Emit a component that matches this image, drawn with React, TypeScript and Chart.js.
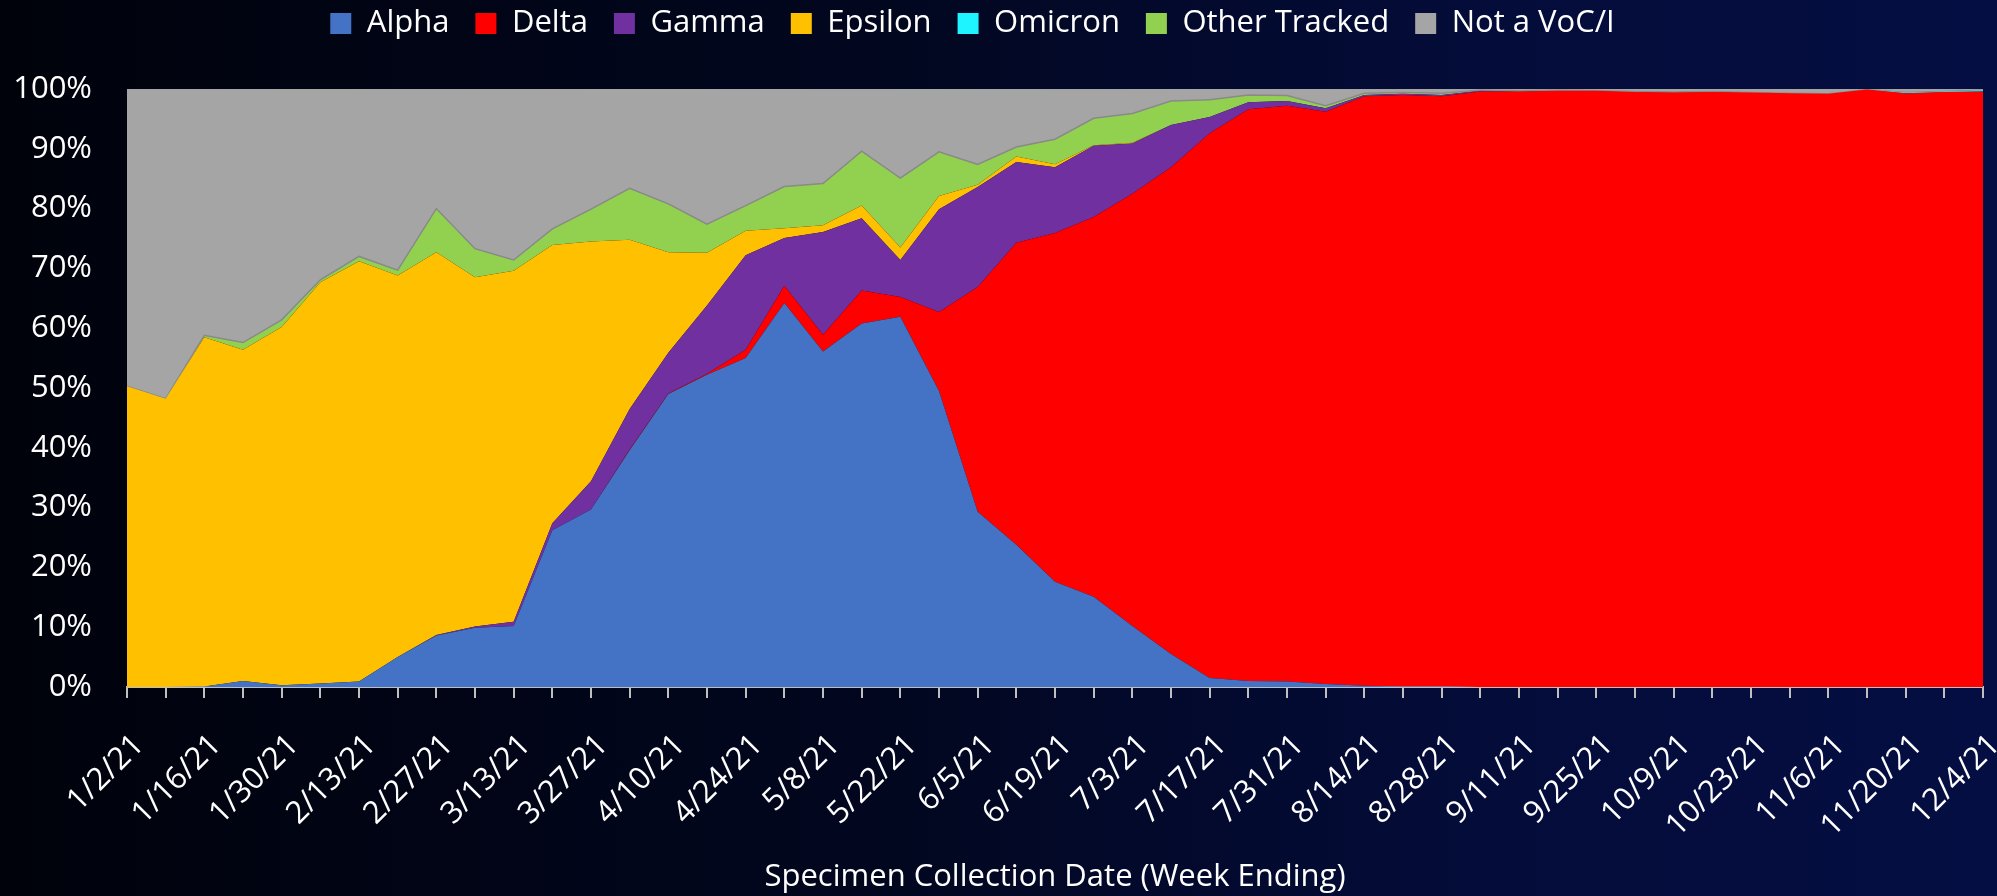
import React, { useEffect, useRef } from 'react';
import { Chart, registerables } from 'chart.js';

Chart.register(...registerables);

const weeks = [
  '1/2/21', '1/9/21', '1/16/21', '1/23/21', '1/30/21', '2/6/21', '2/13/21', '2/20/21', '2/27/21',
  '3/6/21', '3/13/21', '3/20/21', '3/27/21', '4/3/21', '4/10/21', '4/17/21', '4/24/21', '5/1/21',
  '5/8/21', '5/15/21', '5/22/21', '5/29/21', '6/5/21', '6/12/21', '6/19/21', '6/26/21', '7/3/21',
  '7/10/21', '7/17/21', '7/24/21', '7/31/21', '8/7/21', '8/14/21', '8/21/21', '8/28/21', '9/4/21',
  '9/11/21', '9/18/21', '9/25/21', '10/2/21', '10/9/21', '10/16/21', '10/23/21', '10/30/21',
  '11/6/21', '11/13/21', '11/20/21', '11/27/21', '12/4/21',
];

const alpha = [
  0, 0, 0.1, 1.0, 0.3, 0.6, 0.9, 5.0, 8.6, 9.9, 10.2, 26.2, 29.7, 39.6, 49.0, 52.2, 55.0, 64.2,
  56.1, 60.8, 61.9, 49.5, 29.3, 23.8, 17.6, 15.1, 10.2, 5.5, 1.5, 1.0, 0.9, 0.5, 0.2, 0.1, 0.1,
  0, 0, 0, 0, 0, 0, 0, 0, 0, 0, 0, 0, 0, 0,
];

const delta = [
  0, 0, 0, 0, 0, 0, 0, 0, 0, 0, 0, 0, 0, 0.1, 0.1, 0.2, 1.4, 2.9, 2.8, 5.5, 3.3, 13.2, 37.6, 50.5,
  58.3, 63.5, 72.3, 81.4, 91.1, 95.6, 96.3, 95.7, 98.6, 98.9, 98.7, 99.6, 99.6, 99.7, 99.7, 99.5,
  99.4, 99.5, 99.4, 99.3, 99.2, 99.9, 99.3, 99.5, 99.6,
];

const gamma = [
  0, 0, 0, 0, 0, 0, 0, 0, 0.1, 0.2, 0.7, 1.2, 4.7, 6.8, 6.8, 11.4, 15.8, 8.0, 17.2, 12.1, 6.2,
  17.2, 16.7, 13.5, 11.0, 11.9, 8.4, 7.1, 2.7, 1.2, 0.8, 0.6, 0.2, 0.2, 0.2, 0.1,
  0, 0, 0, 0, 0, 0, 0, 0, 0, 0, 0, 0, 0,
];

const epsilon = [
  50.3, 48.2, 58.4, 55.4, 59.9, 67.1, 70.3, 63.8, 64.0, 58.4, 58.7, 46.5, 40.1, 28.3, 16.8, 8.8,
  4.1, 1.6, 1.1, 2.1, 2.1, 2.2, 0.4, 0.9, 0.5, 0.1, 0.1,
  0, 0, 0, 0, 0, 0, 0, 0, 0, 0, 0, 0, 0, 0, 0, 0, 0, 0, 0, 0, 0, 0,
];

const omicron = [
  0, 0, 0, 0, 0, 0, 0, 0, 0, 0, 0, 0, 0, 0, 0, 0, 0, 0, 0, 0, 0, 0, 0, 0, 0, 0, 0, 0, 0, 0, 0, 0,
  0, 0, 0, 0, 0, 0, 0, 0, 0, 0, 0, 0, 0, 0, 0.1, 0.1, 0.2,
];

const otherTracked = [
  0, 0, 0.3, 1.2, 1.2, 0.4, 0.8, 0.9, 7.3, 4.8, 1.8, 2.7, 5.4, 8.6, 8.1, 4.8, 4.2, 7.0, 7.0, 9.1,
  11.6, 7.4, 3.4, 1.6, 4.2, 4.5, 4.9, 4.0, 2.9, 1.2, 0.9, 0.4, 0.3, 0.2, 0.3, 0.1, 0.1, 0.1, 0,
  0.1, 0.1, 0.1, 0, 0, 0, 0, 0, 0, 0,
];

const notVoc = [
  49.7, 51.8, 41.2, 42.4, 38.6, 31.9, 28.0, 30.3, 20.0, 26.7, 28.6, 23.4, 20.1, 16.6, 19.2, 22.6,
  19.5, 16.3, 15.8, 10.4, 14.9, 10.5, 12.6, 9.7, 8.4, 4.9, 4.1, 2.0, 1.8, 1.0, 1.1, 2.8, 0.7, 0.6,
  0.7, 0.2, 0.3, 0.2, 0.3, 0.4, 0.5, 0.4, 0.6, 0.7, 0.8, 0.1, 0.6, 0.4, 0.2,
];

const FONT = "'Open Sans', 'Noto Sans', sans-serif";

function series(label: string, data: number[], color: string, fill: string, border?: string) {
  return {
    label,
    data,
    backgroundColor: color,
    borderColor: border || color,
    borderWidth: border ? 1.5 : 0,
    fill,
    pointRadius: 0,
    tension: 0,
  };
}

export default function App() {
  const ref = useRef<HTMLCanvasElement>(null);

  useEffect(() => {
    const canvas = ref.current;
    if (!canvas) return;
    const chart = new Chart(canvas, {
      type: 'line',
      data: {
        labels: weeks,
        datasets: [
          series('Alpha', alpha, '#4472C4', 'origin'),
          series('Delta', delta, '#FF0000', '-1'),
          series('Gamma', gamma, '#7030A0', '-1'),
          series('Epsilon', epsilon, '#FFC000', '-1'),
          series('Omicron', omicron, '#1EF4FF', '-1'),
          series('Other Tracked', otherTracked, '#92D050', '-1', '#8A8A8A'),
          series('Not a VoC/I', notVoc, '#A5A5A5', '-1'),
        ] as any,
      },
      options: {
        responsive: false,
        animation: false,
        events: [],
        layout: { padding: { top: -18, left: -38, right: 14, bottom: 0 } },
        plugins: {
          legend: {
            position: 'top',
            labels: {
              color: '#FFFFFF',
              font: { family: FONT, size: 31 },
              boxWidth: 21,
              boxHeight: 21,
              padding: 26,
              generateLabels: (c: any) =>
                (Chart.defaults.plugins.legend.labels as any)
                  .generateLabels(c)
                  .map((l: any) => ({ ...l, lineWidth: 0, strokeStyle: 'rgba(0,0,0,0)' })),
            },
          },
          tooltip: { enabled: false },
        },
        scales: {
          x: {
            type: 'category',
            offset: false,
            grid: {
              display: true,
              drawOnChartArea: false,
              drawTicks: true,
              tickLength: 11,
              color: '#BFBFBF',
              lineWidth: 2,
            },
            border: { display: true, color: '#BFBFBF', width: 2 },
            ticks: {
              color: '#FFFFFF',
              font: { family: FONT, size: 31 },
              autoSkip: false,
              maxRotation: 45,
              minRotation: 45,
              padding: 29,
              labelOffset: 12,
              callback: (_v: any, i: number) => (i % 2 === 0 ? weeks[i] : ''),
            },
            title: {
              display: true,
              text: 'Specimen Collection Date (Week Ending)',
              color: '#FFFFFF',
              font: { family: FONT, size: 31 },
              padding: { top: 0, bottom: 0 },
            },
            afterFit: (s: any) => {
              s.height = 209;
              s.paddingRight = 0;
              s.paddingLeft = 0;
            },
          },
          x2: {
            type: 'category',
            position: 'top',
            display: true,
            grid: { display: false, drawTicks: false },
            border: { display: false },
            ticks: { display: false },
            afterFit: (s: any) => {
              s.height = 40;
              s.paddingRight = 0;
              s.paddingLeft = 0;
            },
          },
          y: {
            stacked: true,
            min: 0,
            max: 100,
            grid: { display: false, drawTicks: false },
            border: { display: false },
            ticks: {
              stepSize: 10,
              color: '#FFFFFF',
              font: { family: FONT, size: 31 },
              padding: 35,
              callback: (v: any) => `${v}%`,
            },
            afterFit: (s: any) => {
              s.width = 165;
            },
          },
        } as any,
      },
    });
    return () => chart.destroy();
  }, []);

  return (
    <div
      style={{
        position: 'fixed',
        left: 0,
        top: 0,
        width: 1997,
        height: 896,
        background: 'linear-gradient(to right, #00020b 0%, #020720 45%, #040c3a 75%, #050e42 100%)',
      }}
    >
      <canvas ref={ref} width={1997} height={896} style={{ width: 1997, height: 896, display: 'block' }} />
    </div>
  );
}
